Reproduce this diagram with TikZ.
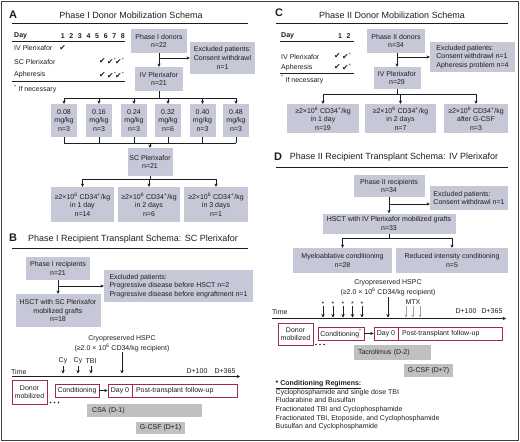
\documentclass[tikz,border=0pt]{standalone}
\usepackage{fontspec}
\setmainfont{Liberation Sans}
\newfontfamily\dejavu{DejaVu Sans}
\usetikzlibrary{arrows.meta}
\definecolor{boxfill}{RGB}{198,199,215}
\definecolor{grayfill}{RGB}{192,192,192}
\definecolor{redb}{RGB}{163,40,77}
\definecolor{ink}{RGB}{30,30,30}
\newcommand{\sm}{\fontsize{7}{8.7}\selectfont}
\newcommand{\ckm}{{\fontsize{7.8}{8}\dejavu ✔}}
\newcommand{\cka}{{\fontsize{7.8}{8}\dejavu ✔}\rlap{\textsuperscript{*}}}
\newcommand{\cdf}{≥2×10\textsuperscript{6} CD34\textsuperscript{+}/kg}
\begin{document}
\begin{tikzpicture}[x=1pt,y=-1pt, font=\sm, text=ink,
  every node/.style={inner sep=1pt},
  gbox/.style={fill=boxfill, align=center, inner sep=1pt},
  graybox/.style={fill=grayfill, align=center, inner sep=1pt},
  rbox/.style={draw=redb, line width=0.9pt, fill=white, align=center, inner sep=1pt},
  bx/.style 2 args={minimum width=#1pt, minimum height=#2pt},
  conn/.style={draw=ink, line width=0.6pt},
  arr/.style={conn, -{Stealth[length=3.2pt,width=3.2pt]}},
  tarr/.style={draw=ink, line width=0.9pt, -{Stealth[length=3.4pt,width=3.4pt]}},
  garr/.style={draw=gray!70, line width=0.7pt, -{Stealth[length=3pt,width=3pt]}},
  ttl/.style={font=\fontsize{9}{11}\selectfont},
  letter/.style={font=\fontsize{11}{12}\selectfont\bfseries},
  hrule/.style={draw=ink, line width=0.9pt},
  trule/.style={draw=ink, line width=0.5pt},
]
\useasboundingbox (0,0) rectangle (520,442);
\draw[draw=ink!85, line width=1pt] (1,1) rectangle (518.5,440);

%================ Panel A =================
\node[letter] (LA) at (13,15) {A};
\node[ttl] (TA) at (131,15) {Phase I Donor Mobilization Schema};
\draw[hrule] (12,23) -- (248,23);
% table
\node[anchor=west,font=\sm\bfseries] (dayA) at (13,36) {Day};
\foreach \i/\x in {1/62.7,2/71.3,3/79.9,4/88.5,5/97.1,6/105.7,7/114.3,8/122.9}
  \node[font=\sm\bfseries] (hA\i) at (\x,36) {\i};
\draw[trule] (12,41) -- (125,41);
\draw[trule] (12,81) -- (125,81);
\node[anchor=west] (rowA1) at (13,48) {IV Plerixafor};
\node[anchor=west] (rowA2) at (13,61.5) {SC Plerixafor};
\node[anchor=west] (rowA3) at (13,75) {Apheresis};
\node[anchor=west] (noteA) at (13,89) {\textsuperscript{*} If necessary};
\node (ckA1) at (62.7,48) {\ckm};
\node (ckA2) at (102.5,61.5) {\ckm};
\node (ckA3) at (110.5,61.5) {\cka};
\node (ckA4) at (118.5,61.5) {\cka};
\node (ckA5) at (102.5,75) {\ckm};
\node (ckA6) at (110.5,75) {\cka};
\node (ckA7) at (118.5,75) {\cka};
% flow
\node[gbox,bx={56}{24}] (donA) at (159,41) {Phase I donors\\n=22};
\node[gbox,bx={65}{32}] (exA) at (222.5,58) {Excluded patients:\\Consent withdrawl\\n=1};
\node[gbox,bx={48}{24}] (ivA) at (159,79) {IV Plerixafor\\n=21};
\draw[arr] (donA.south) -- (ivA.north);
\draw[arr] (donA.south |- exA.west) -- (exA.west);
\foreach \i/\x/\dd/\nn in {1/64/0.08/3,2/99/0.16/3,3/134/0.24/3,4/168/0.32/6,5/202.5/0.40/3,6/236/0.48/3}
  \node[gbox,bx={26}{33}] (dA\i) at (\x,120.5) {\dd\\mg/kg\\n=\nn};
\coordinate (fanA) at (159,98);
\draw[conn] (ivA.south) -- (fanA);
\draw[conn] (dA1.north |- fanA) -- (dA6.north |- fanA);
\foreach \i in {1,...,6} \draw[arr] (dA\i.north |- fanA) -- (dA\i.north);
\node[gbox,bx={45}{28}] (scA) at (150,162) {SC Plerixafor\\n=21};
\coordinate (brA) at (150,143);
\foreach \i in {1,...,6} \draw[conn] (dA\i.south) -- (dA\i.south |- brA);
\draw[conn] (dA1.south |- brA) -- (dA6.south |- brA);
\draw[arr] (scA.north |- brA) -- (scA.north);
\node[gbox,bx={63}{35}] (rA1) at (82.5,204.5) {\cdf\\in 1 day\\n=14};
\node[gbox,bx={62}{35}] (rA2) at (149,204.5) {\cdf\\in 2 days\\n=6};
\node[gbox,bx={64}{35}] (rA3) at (216,204.5) {\cdf\\in 3 days\\n=1};
\coordinate (fan2A) at (150,179);
\draw[conn] (scA.south) -- (fan2A);
\draw[conn] (rA1.north |- fan2A) -- (rA3.north |- fan2A);
\foreach \i in {1,2,3} \draw[arr] (rA\i.north |- fan2A) -- (rA\i.north);

%================ Panel B =================
\node[letter] (LB) at (13,238) {B};
\node[ttl] (TB) at (133,239) {Phase I Recipient Transplant Schema: SC Plerixafor};
\draw[hrule] (12,248) -- (248,248);
\node[gbox,bx={64}{23}] (recB) at (58,268.5) {Phase I recipients\\n=21};
\node[gbox,bx={85}{33}] (hsctB) at (58,310.5) {HSCT with SC Plerixafor\\mobilized grafts\\n=18};
\node[gbox,align=left,bx={149}{32}] (exB) at (178.5,286)
  {Excluded patients:\\Progressive disease before HSCT n=2\\Progressive disease before engraftment n=1};
\draw[arr] (recB.south) -- (hsctB.north);
\draw[arr] (recB.south |- exB.west) -- (exB.west);
% timeline
\node (cryB1) at (122,339) {Cryopreserved HSPC};
\node (cryB2) at (122,348) {(≥2.0 × 10\textsuperscript{6} CD34/kg recipient)};
\node (cyB1) at (63,361) {Cy};
\node (cyB2) at (78,361) {Cy};
\node (tbiB) at (91,361) {TBI};
\foreach \x in {63,78,91} \draw[tarr] (\x,366) -- (\x,373.5);
\draw[tarr] (122,352) -- (122,373.5);
\node[anchor=west] (timeB) at (10,371.5) {Time};
\node (d100B) at (197,371.5) {D+100};
\node (d365B) at (225,371.5) {D+365};
\coordinate (tlB0) at (12,376.5);
\coordinate (tlB1) at (240,376.5);
\draw[arr] (tlB0) -- (tlB1);
\node[rbox,bx={35}{24}] (donB) at (29.5,392) {Donor\\mobilized};
\foreach \x in {50.5,54.5,58.5} \fill[ink] (\x,402.5) circle (0.8pt);
\node[rbox,bx={44}{13}] (condB) at (77,390.5) {Conditioning};
\node[rbox,bx={24}{13}] (day0B) at (120,390.5) {Day 0};
\node[rbox,align=left,text width=97pt,inner xsep=4pt,minimum height=13pt] (postB) at (184.5,390.5) {Post-transplant follow-up};
\draw[arr] (condB.east) -- (day0B.west);
\node[graybox,align=left,text width=105pt,inner xsep=5pt,minimum height=13pt] (csaB) at (144.5,410.5) {CSA (D-1)};
\node[graybox,bx={49}{12}] (gcsfB) at (160.5,427.5) {G-CSF (D+1)};

%================ Panel C =================
\node[letter] (LC) at (279,13) {C};
\node[ttl] (TC) at (392,15) {Phase II Donor Mobilization Schema};
\draw[hrule] (276,23) -- (508,23);
\node[anchor=west,font=\sm\bfseries] (dayC) at (280,36) {Day};
\node[font=\sm\bfseries] (hC1) at (340,36) {1};
\node[font=\sm\bfseries] (hC2) at (348.5,36) {2};
\draw[trule] (280,41) -- (354,41);
\draw[trule] (280,73) -- (354,73);
\node[anchor=west] (rowC1) at (280,56.5) {IV Plerixafor};
\node[anchor=west] (rowC2) at (280,67.5) {Apheresis};
\node[anchor=west] (noteC) at (280,79.5) {\textsuperscript{*} If necessary};
\node (ckC1) at (337.5,56) {\ckm};
\node (ckC2) at (345.5,56) {\cka};
\node (ckC3) at (337.5,67) {\ckm};
\node (ckC4) at (345.5,67) {\cka};
\node[gbox,bx={58}{24}] (donC) at (396,41) {Phase II donors\\n=34};
\node[gbox,align=left,bx={85}{30}] (exC) at (472.5,57)
  {Excluded patients:\\Consent withdrawl n=1\\Apheresis problem n=4};
\node[gbox,bx={47}{22}] (ivC) at (397,78) {IV Plerixafor\\n=29};
\draw[arr] (donC.south -| ivC.north) -- (ivC.north);
\draw[arr] (ivC.north |- exC.west) -- (exC.west);
\node[gbox,bx={72}{29}] (rC1) at (323,118.5) {\cdf\\in 1 day\\n=19};
\node[gbox,bx={71}{29}] (rC2) at (400.5,118.5) {\cdf\\in 2 days\\n=7};
\node[gbox,bx={64}{29}] (rC3) at (476,118.5) {\cdf\\after G-CSF\\n=3};
\coordinate (fanC) at (397,94);
\draw[conn] (ivC.south) -- (fanC);
\draw[conn] (rC1.north |- fanC) -- (rC3.north |- fanC);
\foreach \i in {1,2,3} \draw[arr] (rC\i.north |- fanC) -- (rC\i.north);

%================ Panel D =================
\node[letter] (LD) at (278,157) {D};
\node[ttl] (TD) at (394,157) {Phase II Recipient Transplant Schema: IV Plerixafor};
\draw[hrule] (276,167) -- (508,167);
\node[gbox,bx={71}{22}] (recD) at (389,186) {Phase II recipients\\n=34};
\node[gbox,align=left,bx={78}{24}] (exD) at (469,198)
  {Excluded patients:\\Consent withdrawl n=1};
\node[gbox,bx={133}{20}] (hsctD) at (389,223.5) {HSCT with IV Plerixafor mobilized grafts\\n=33};
\draw[arr] (recD.south) -- (hsctD.north);
\draw[arr] (recD.south |- 0,204) -- (exD.west |- 0,204);
\node[gbox,bx={99}{25}] (myD) at (342.5,260.5) {Myeloablative conditioning\\n=28};
\node[gbox,bx={112}{25}] (riD) at (452,260.5) {Reduced intensity conditioning\\n=5};
\coordinate (fanD) at (389,238);
\draw[conn] (hsctD.south) -- (fanD);
\draw[conn] (myD.north |- fanD) -- (riD.north |- fanD);
\draw[arr] (myD.north |- fanD) -- (myD.north);
\draw[arr] (riD.north |- fanD) -- (riD.north);
% timeline
\node (cryD1) at (388,283) {Cryopreserved HSPC};
\node (cryD2) at (388,292) {(≥2.0 × 10\textsuperscript{6} CD34/kg recipient)};
\foreach \x [count=\k] in {323,333,343,352.5,362} {
  \node (astD\k) at (\x,304.5) {*};
  \draw[tarr] (\x,306) -- (\x,317.5);
}
\draw[tarr] (388,297) -- (388,317.5);
\node (mtxD) at (413,302) {MTX};
\foreach \x in {406,413,420} \draw[garr] (\x,306) -- (\x,317.5);
\node[anchor=west] (timeD) at (271,312) {Time};
\node (d100D) at (466,311.5) {D+100};
\node (d365D) at (492,311.5) {D+365};
\coordinate (tlD0) at (272,318.5);
\coordinate (tlD1) at (506,318.5);
\draw[arr] (tlD0) -- (tlD1);
\node[rbox,bx={35}{22}] (donD) at (295.5,334) {Donor\\mobilized};
\foreach \x in {316,320,324} \fill[ink] (\x,344.5) circle (0.8pt);
\node[rbox,bx={46}{13}] (condD) at (341,333.5) {Conditioning\textsuperscript{*}};
\node[rbox,bx={24}{13}] (day0D) at (386,333.5) {Day 0};
\node[rbox,align=left,text width=96pt,inner xsep=4pt,minimum height=13pt] (postD) at (450,333.5) {Post-transplant follow-up};
\draw[arr] (condD.east) -- (day0D.west);
\node[graybox,align=left,text width=69pt,inner xsep=4pt,minimum height=15pt] (tacD) at (392.5,352.5) {Tacrolimus (D-2)};
\node[graybox,bx={49}{13}] (gcsfD) at (428.5,370.5) {G-CSF (D+7)};
\node[anchor=north west,align=left,inner sep=0pt,font=\fontsize{7}{8.6}\selectfont] (regD) at (275.5,380.5)
  {\underline{\textbf{* Conditioning Regimens:}}\\
   Cyclophosphamide and single dose TBI\\
   Fludarabine and Busulfan\\
   Fractionated TBI and Cyclophosphamide\\
   Fractionated TBI, Etoposide, and Cyclophosphamide\\
   Busulfan and Cyclophosphamide};
\end{tikzpicture}
\end{document}
